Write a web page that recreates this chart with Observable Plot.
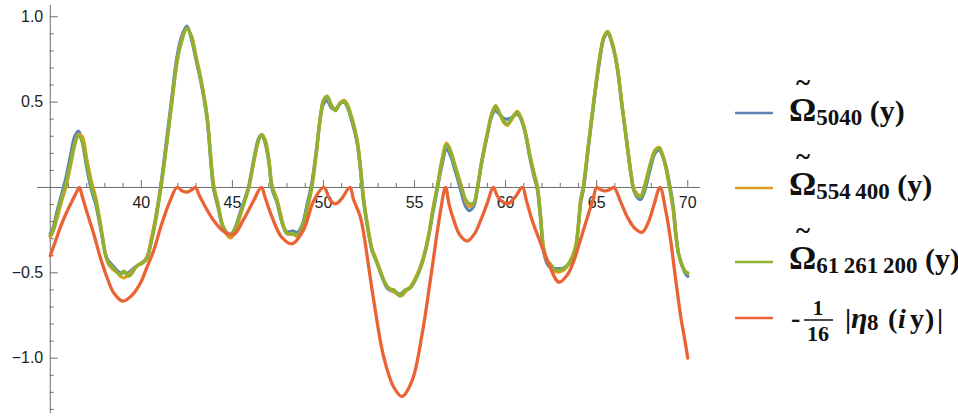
<!DOCTYPE html>
<html>
<head>
<meta charset="utf-8">
<script src="https://cdn.jsdelivr.net/npm/d3@7"></script>
<script src="https://cdn.jsdelivr.net/npm/@observablehq/plot@0.6"></script>
<style>
  html, body { margin: 0; padding: 0; background: #fff; }
  #wrap { position: relative; width: 958px; height: 418px; overflow: hidden; }
  #chart { position: absolute; left: 0; top: 0; }
  #legend { position: absolute; left: 0; top: 0; }
</style>
</head>
<body>
<div id="wrap">
  <div id="chart"></div>
  <svg id="legend" width="958" height="418"></svg>
</div>
<script>
// ---------------- data ----------------
const omegaX = [35.0,35.15,35.35,35.6,35.85,36.1,36.35,36.55,36.75,37.0,37.25,37.5,37.8,38.05,38.2,38.45,38.7,38.85,39.05,39.3,39.5,39.75,40.05,40.3,40.55,40.8,41.08,41.4,41.7,41.95,42.2,42.5,42.75,43.0,43.25,43.6,43.97,44.2,44.5,44.75,44.9,45.1,45.45,45.7,45.9,46.2,46.45,46.62,46.8,47.0,47.18,47.45,47.8,48.0,48.35,48.55,48.83,49.1,49.35,49.6,49.85,50.0,50.2,50.45,50.66,50.9,51.12,51.3,51.5,51.85,52.13,52.2,52.45,52.67,52.86,53.1,53.31,53.5,53.7,53.87,54.05,54.2,54.35,54.5,54.75,55.0,55.33,55.6,55.8,56.0,56.25,56.5,56.76,57.0,57.2,57.34,57.57,57.8,58.0,58.25,58.45,58.7,59.0,59.25,59.45,59.65,59.9,60.1,60.35,60.64,60.85,61.1,61.3,61.55,61.74,61.9,62.1,62.3,62.47,62.7,62.85,63.1,63.35,63.57,63.85,64.0,64.12,64.27,64.55,64.85,65.2,65.4,65.6,65.8,66.1,66.4,66.7,66.9,67.05,67.25,67.42,67.6,67.97,68.2,68.43,68.6,68.79,69.0,69.2,69.35,69.5,69.7,69.85,70.0];

const omega5040 = [-0.27,-0.24,-0.15,-0.05,0.05,0.18,0.30,0.33,0.27,0.12,-0.01,-0.10,-0.26,-0.40,-0.43,-0.46,-0.49,-0.50,-0.50,-0.50,-0.48,-0.46,-0.44,-0.41,-0.31,-0.17,0.02,0.29,0.55,0.76,0.88,0.945,0.87,0.75,0.63,0.41,-0.01,-0.11,-0.24,-0.27,-0.275,-0.25,-0.14,-0.06,0.01,0.18,0.29,0.31,0.26,0.15,-0.01,-0.09,-0.23,-0.26,-0.255,-0.265,-0.22,-0.10,0.02,0.21,0.42,0.49,0.51,0.465,0.46,0.49,0.50,0.475,0.41,0.26,-0.01,-0.08,-0.25,-0.37,-0.42,-0.49,-0.55,-0.59,-0.605,-0.61,-0.62,-0.625,-0.615,-0.60,-0.59,-0.55,-0.47,-0.37,-0.27,-0.15,-0.01,0.13,0.225,0.18,0.11,0.06,-0.03,-0.11,-0.135,-0.11,-0.01,0.15,0.31,0.42,0.45,0.43,0.405,0.40,0.41,0.43,0.40,0.31,0.19,0.07,-0.01,-0.16,-0.38,-0.45,-0.47,-0.475,-0.475,-0.475,-0.46,-0.435,-0.35,-0.22,-0.09,-0.01,0.24,0.50,0.77,0.875,0.905,0.86,0.72,0.47,0.23,0.07,-0.02,-0.06,-0.07,-0.03,0.12,0.20,0.22,0.19,0.13,0.02,-0.11,-0.27,-0.39,-0.46,-0.50,-0.52];

const omega554400 = [-0.29,-0.26,-0.19,-0.09,0.0,0.12,0.25,0.31,0.30,0.17,0.04,-0.06,-0.24,-0.40,-0.45,-0.48,-0.50,-0.52,-0.53,-0.51,-0.49,-0.46,-0.44,-0.41,-0.30,-0.17,0.01,0.26,0.52,0.73,0.86,0.93,0.89,0.77,0.65,0.43,0.02,-0.09,-0.24,-0.285,-0.295,-0.27,-0.16,-0.07,0.0,0.16,0.28,0.31,0.28,0.17,0.01,-0.07,-0.22,-0.27,-0.275,-0.285,-0.24,-0.13,-0.01,0.19,0.43,0.51,0.53,0.475,0.455,0.495,0.51,0.49,0.43,0.28,0.02,-0.06,-0.24,-0.36,-0.41,-0.48,-0.54,-0.58,-0.60,-0.61,-0.625,-0.635,-0.63,-0.61,-0.585,-0.54,-0.46,-0.36,-0.26,-0.13,0.01,0.16,0.26,0.21,0.14,0.09,0.01,-0.08,-0.11,-0.095,0.0,0.16,0.32,0.44,0.48,0.44,0.38,0.365,0.40,0.445,0.41,0.32,0.21,0.09,0.01,-0.14,-0.36,-0.43,-0.46,-0.49,-0.495,-0.49,-0.465,-0.425,-0.34,-0.21,-0.07,0.01,0.26,0.52,0.79,0.885,0.915,0.87,0.73,0.48,0.23,0.07,-0.01,-0.04,-0.05,0.0,0.15,0.22,0.235,0.20,0.12,0.0,-0.13,-0.29,-0.39,-0.46,-0.49,-0.50];

const omega61261200 = [-0.28,-0.25,-0.17,-0.07,0.02,0.14,0.26,0.305,0.27,0.14,0.01,-0.08,-0.25,-0.40,-0.44,-0.47,-0.50,-0.51,-0.49,-0.52,-0.50,-0.46,-0.445,-0.42,-0.32,-0.19,0.0,0.26,0.52,0.73,0.85,0.935,0.88,0.76,0.64,0.42,0.0,-0.10,-0.23,-0.27,-0.28,-0.25,-0.15,-0.07,0.0,0.17,0.28,0.305,0.27,0.16,0.0,-0.08,-0.23,-0.27,-0.27,-0.28,-0.23,-0.12,0.0,0.20,0.43,0.51,0.535,0.48,0.45,0.49,0.505,0.48,0.42,0.27,0.0,-0.07,-0.25,-0.37,-0.42,-0.49,-0.545,-0.58,-0.595,-0.60,-0.62,-0.635,-0.615,-0.60,-0.59,-0.55,-0.47,-0.37,-0.27,-0.14,0.0,0.15,0.25,0.20,0.13,0.08,0.0,-0.07,-0.095,-0.09,0.0,0.16,0.315,0.43,0.475,0.44,0.39,0.37,0.41,0.44,0.40,0.31,0.20,0.08,0.0,-0.15,-0.37,-0.43,-0.45,-0.48,-0.485,-0.48,-0.46,-0.43,-0.35,-0.22,-0.08,0.0,0.25,0.51,0.78,0.88,0.91,0.86,0.72,0.47,0.22,0.06,-0.02,-0.05,-0.055,-0.01,0.14,0.21,0.232,0.19,0.12,0.0,-0.12,-0.28,-0.39,-0.46,-0.49,-0.505];

const etaX = [35.0,35.3,35.6,35.9,36.2,36.45,36.6,36.75,37.0,37.38,37.75,38.11,38.5,38.99,39.5,39.95,40.3,40.68,41.1,41.59,41.96,42.25,42.51,42.75,42.97,43.2,43.6,43.97,44.5,45.07,45.6,46.17,46.59,46.8,47.2,47.7,48.28,48.9,49.47,50.02,50.35,50.66,51.0,51.45,51.65,52.03,52.21,52.76,53.31,53.86,54.32,54.87,55.42,55.97,56.43,56.7,56.9,57.16,57.5,57.89,58.3,58.63,59.0,59.32,59.6,60.09,60.5,60.92,61.15,61.46,61.9,62.29,62.93,63.4,63.75,64.1,64.49,64.8,65.0,65.25,65.49,65.75,65.95,66.3,66.69,67.1,67.51,67.85,68.15,68.48,68.79,69.05,69.25,69.45,69.62,69.85,70.0];
const etaY = [-0.40,-0.31,-0.22,-0.145,-0.08,-0.025,0.0,-0.05,-0.14,-0.27,-0.41,-0.525,-0.62,-0.666,-0.63,-0.56,-0.47,-0.37,-0.22,-0.076,0.0,-0.02,-0.027,-0.015,0.0,-0.05,-0.13,-0.193,-0.255,-0.275,-0.19,-0.076,0.0,-0.06,-0.18,-0.29,-0.33,-0.25,-0.076,0.0,-0.07,-0.096,-0.065,0.0,-0.07,-0.174,-0.271,-0.662,-0.994,-1.17,-1.224,-1.13,-0.857,-0.467,-0.135,0.0,-0.1,-0.193,-0.28,-0.314,-0.27,-0.193,-0.09,0.0,-0.06,-0.096,-0.06,0.0,-0.08,-0.193,-0.32,-0.428,-0.555,-0.51,-0.428,-0.31,-0.174,-0.07,0.0,-0.015,-0.02,-0.01,0.0,-0.08,-0.174,-0.24,-0.262,-0.2,-0.1,0.0,-0.135,-0.3,-0.467,-0.63,-0.76,-0.9,-1.0];

const xLabelTicks = [40, 45, 50, 55, 60, 65, 70];
const xMinorTicks = [36,37,38,39,41,42,43,44,46,47,48,49,51,52,53,54,56,57,58,59,61,62,63,64,66,67,68,69];
const yMajorTicks = [-1.0, -0.5, 0.5, 1.0];
const yTickLabels = ["\u22121.0", "\u22120.5", "0.5", "1.0"];
const yMinorTicks = [-1.3,-1.2,-1.1,-0.9,-0.8,-0.7,-0.6,-0.4,-0.3,-0.2,-0.1,0.1,0.2,0.3,0.4,0.6,0.7,0.8,0.9];
const axisOrigin = [35, 0];

const seriesNames = ["5040", "554\u2009400", "61\u2009261\u2009200", "eta"];
const seriesColors = ["#5E81B5", "#E19C24", "#8FB131", "#EB6235"];

// ---------------- chart ----------------
const omegaSeries = [omega5040, omega554400, omega61261200];
const omegaRows = omegaSeries.map(ys => omegaX.map((x, i) => ({x, y: ys[i]})));
const etaRows = etaX.map((x, i) => ({x, y: etaY[i]}));

const axisColor = "#6e6e6e";
const labelColor = "#222";
const lineStyle = {strokeWidth: 3.3, curve: "catmull-rom", strokeLinejoin: "round", strokeLinecap: "round"};

const svg = Plot.plot({
  width: 720,
  height: 418,
  marginLeft: 37,
  marginRight: 20,
  marginTop: 5,
  marginBottom: 5,
  style: {fontFamily: "'Liberation Sans', Arial, sans-serif", background: "white", overflow: "visible"},
  x: {domain: [34.3, 70.7], axis: null},
  y: {domain: [-1.324, 1.066], axis: null},
  marks: [
    Plot.ruleY([axisOrigin[1]], {stroke: axisColor, strokeWidth: 1}),
    Plot.ruleX([axisOrigin[0]], {stroke: axisColor, strokeWidth: 1}),
    Plot.ruleX(xLabelTicks, {x: d => d, y1: axisOrigin[1], y2: axisOrigin[1], insetTop: -7, stroke: axisColor}),
    Plot.ruleX(xMinorTicks, {x: d => d, y1: axisOrigin[1], y2: axisOrigin[1], insetTop: -4, stroke: axisColor}),
    Plot.ruleY(yMajorTicks, {y: d => d, x1: axisOrigin[0], x2: axisOrigin[0], insetRight: -8, stroke: axisColor}),
    Plot.ruleY(yMinorTicks, {y: d => d, x1: axisOrigin[0], x2: axisOrigin[0], insetRight: -4, stroke: axisColor}),
    Plot.text(xLabelTicks, {x: d => d, y: axisOrigin[1], dy: 15, text: d => String(d), fontSize: 16, fill: labelColor}),
    Plot.text(yMajorTicks, {x: axisOrigin[0], y: d => d, dx: -7, textAnchor: "end", text: (d, i) => yTickLabels[i], fontSize: 16, fill: labelColor}),
    ...omegaRows.map((rows, k) => Plot.line(rows, {x: "x", y: "y", stroke: seriesColors[k], ...lineStyle})),
    Plot.line(etaRows, {x: "x", y: "y", stroke: seriesColors[3], ...lineStyle})
  ]
});
document.getElementById("chart").appendChild(svg);

// ---------------- legend ----------------
const serif = "'Liberation Serif', Tinos, 'Times New Roman', 'DejaVu Serif', serif";
const lg = d3.select("#legend");
const txt = (x, y, size) => lg.append("text").attr("x", x).attr("y", y)
  .attr("font-family", serif).attr("font-weight", "bold").attr("font-size", size).attr("fill", "#111");
const rowsY = [113, 188, 262, 318];
const baseY = [121, 195, 269];
seriesColors.forEach((c, k) => {
  lg.append("line").attr("x1", 735).attr("x2", 773).attr("y1", rowsY[k]).attr("y2", rowsY[k])
    .attr("stroke", c).attr("stroke-width", 2.5);
});
seriesNames.slice(0, 3).forEach((name, k) => {
  const b = baseY[k];
  txt(803, b - 30, 27).attr("text-anchor", "middle").text("~");
  const t = txt(789, b, 34);
  t.append("tspan").text("\u03A9");
  t.append("tspan").attr("font-size", 23).attr("dy", 4).text(name);
  t.append("tspan").attr("font-size", 30).attr("dy", -4).text("\u00A0(y)");
});
{
  const b = 328;
  txt(791, 327, 28).text("-");
  txt(818, 315, 21).attr("text-anchor", "middle").text("1");
  lg.append("line").attr("x1", 804).attr("x2", 833).attr("y1", 320).attr("y2", 320).attr("stroke", "#111").attr("stroke-width", 1.5);
  txt(818, 341, 22).attr("text-anchor", "middle").text("16");
  const t = txt(845, b, 28);
  t.append("tspan").text("|");
  t.append("tspan").attr("x", 851).attr("font-size", 30).attr("font-style", "italic").text("\u03B7");
  t.append("tspan").attr("x", 867).attr("font-size", 23).attr("dy", 2).text("8");
  t.append("tspan").attr("x", 888).attr("dy", -2).text("(");
  t.append("tspan").attr("x", 898).attr("font-style", "italic").text("i");
  t.append("tspan").attr("x", 910).text("y");
  t.append("tspan").attr("x", 925).text(")");
  t.append("tspan").attr("x", 937).text("|");
}
</script>
</body>
</html>
